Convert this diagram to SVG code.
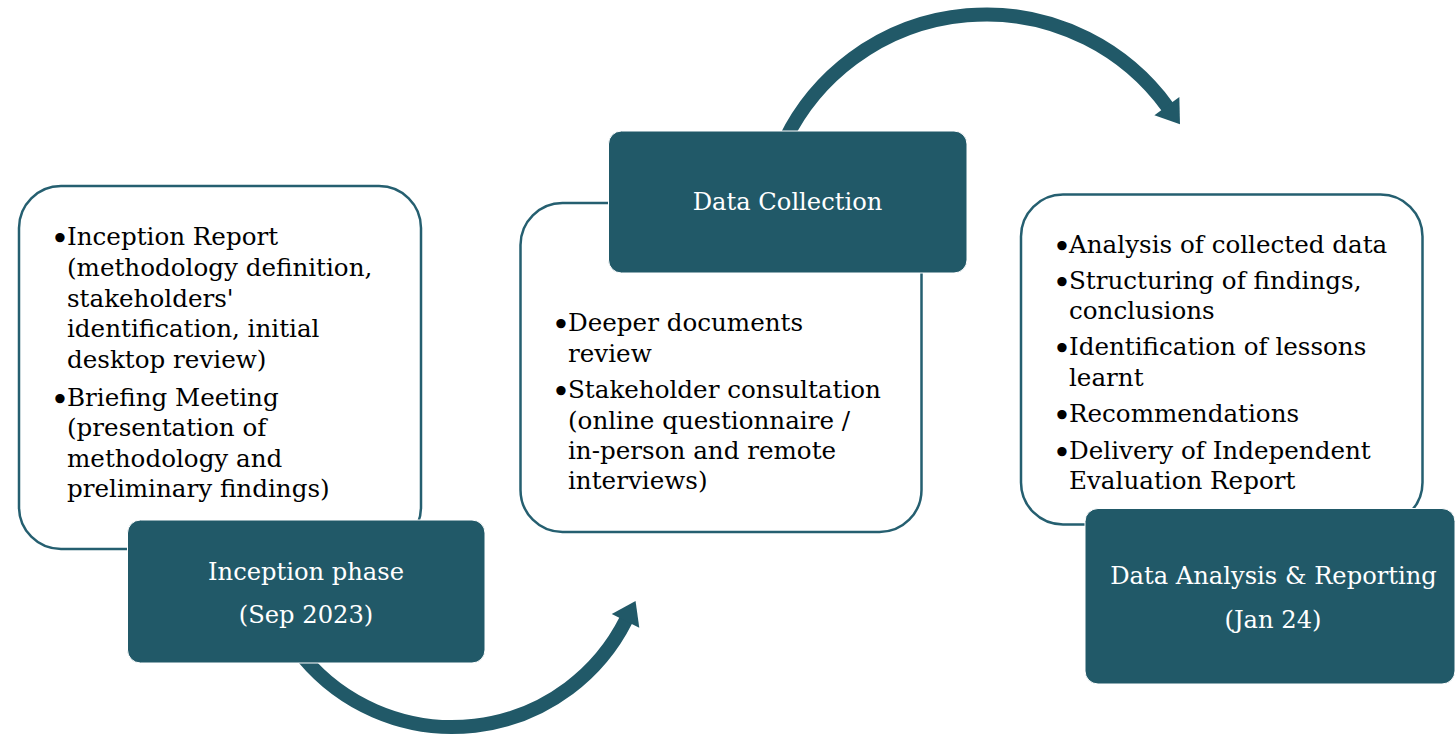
<svg xmlns="http://www.w3.org/2000/svg" width="1456" height="736" viewBox="0 0 1456 736">
  <defs>
    <style>
      .card { fill: #ffffff; stroke: #255f70; stroke-width: 2.5; }
      .phase { fill: #215968; stroke: #ffffff; stroke-width: 1; }
      .item { font-family: "DejaVu Serif", "Liberation Serif", serif; font-size: 24.6px; fill: #000000; }
      .bullet { font-family: "DejaVu Serif", "Liberation Serif", serif; font-size: 32px; fill: #000000; text-anchor: middle; }
      .title { font-family: "DejaVu Serif", "Liberation Serif", serif; font-size: 24.2px; fill: #ffffff; text-anchor: middle; }
      .flow { fill: none; stroke: #215968; stroke-width: 14; stroke-linecap: butt; }
    </style>
    <marker id="head" markerUnits="userSpaceOnUse" markerWidth="30" markerHeight="34" viewBox="-2 -16 26 32" refX="0" refY="0" orient="auto">
      <path d="M -1 -14.5 L 20 0 L -1 14.5 Z" fill="#215968"/>
    </marker>
  </defs>

  <!-- curved flow arrows between phases -->
  <g id="connectors">
    <path class="flow" d="M 303.4 657.6 A 194.4 194.4 0 0 0 626 620" marker-end="url(#head)"/>
    <path class="flow" d="M 785 140 A 224 224 0 0 1 1167.5 107" marker-end="url(#head)"/>
  </g>

  <!-- Inception phase -->
  <g id="inception">
    <rect class="card" x="19" y="186" width="402" height="363" rx="42" ry="42"/>
    <text class="bullet" x="60" y="250">•</text>
    <text class="item" x="67" y="245">Inception Report</text>
    <text class="item" x="67" y="276">(methodology definition,</text>
    <text class="item" x="67" y="307">stakeholders'</text>
    <text class="item" x="67" y="337">identification, initial</text>
    <text class="item" x="67" y="368">desktop review)</text>
    <text class="bullet" x="60" y="411">•</text>
    <text class="item" x="67" y="406">Briefing Meeting</text>
    <text class="item" x="67" y="436">(presentation of</text>
    <text class="item" x="67" y="467">methodology and</text>
    <text class="item" x="67" y="497">preliminary findings)</text>
    <rect class="phase" x="127.5" y="520" width="357.5" height="143" rx="13" ry="13"/>
    <text class="title" x="306" y="580">Inception phase</text>
    <text class="title" x="306" y="623">(Sep 2023)</text>
  </g>

  <!-- Data collection phase -->
  <g id="data-collection">
    <rect class="card" x="520.5" y="203" width="401" height="329" rx="42" ry="42"/>
    <rect class="phase" x="608.5" y="131" width="358.5" height="142" rx="13" ry="13"/>
    <text class="title" x="787.5" y="210">Data Collection</text>
    <text class="bullet" x="561" y="336">•</text>
    <text class="item" x="568" y="331">Deeper documents</text>
    <text class="item" x="568" y="362">review</text>
    <text class="bullet" x="561" y="403">•</text>
    <text class="item" x="568" y="398">Stakeholder consultation</text>
    <text class="item" x="568" y="429">(online questionnaire /</text>
    <text class="item" x="568" y="459">in-person and remote</text>
    <text class="item" x="568" y="489">interviews)</text>
  </g>

  <!-- Data analysis and reporting phase -->
  <g id="analysis-reporting">
    <rect class="card" x="1021" y="194.5" width="401.5" height="330" rx="42" ry="42"/>
    <text class="bullet" x="1062" y="258">•</text>
    <text class="item" x="1069" y="253">Analysis of collected data</text>
    <text class="bullet" x="1062" y="294">•</text>
    <text class="item" x="1069" y="289">Structuring of findings,</text>
    <text class="item" x="1069" y="319">conclusions</text>
    <text class="bullet" x="1062" y="360">•</text>
    <text class="item" x="1069" y="355">Identification of lessons</text>
    <text class="item" x="1069" y="386">learnt</text>
    <text class="bullet" x="1062" y="427">•</text>
    <text class="item" x="1069" y="422">Recommendations</text>
    <text class="bullet" x="1062" y="464">•</text>
    <text class="item" x="1069" y="459">Delivery of Independent</text>
    <text class="item" x="1069" y="489">Evaluation Report</text>
    <rect class="phase" x="1085" y="508.5" width="370" height="175.5" rx="13" ry="13"/>
    <text class="title" x="1273.5" y="584">Data Analysis &amp; Reporting</text>
    <text class="title" x="1273" y="628">(Jan 24)</text>
  </g>
</svg>
